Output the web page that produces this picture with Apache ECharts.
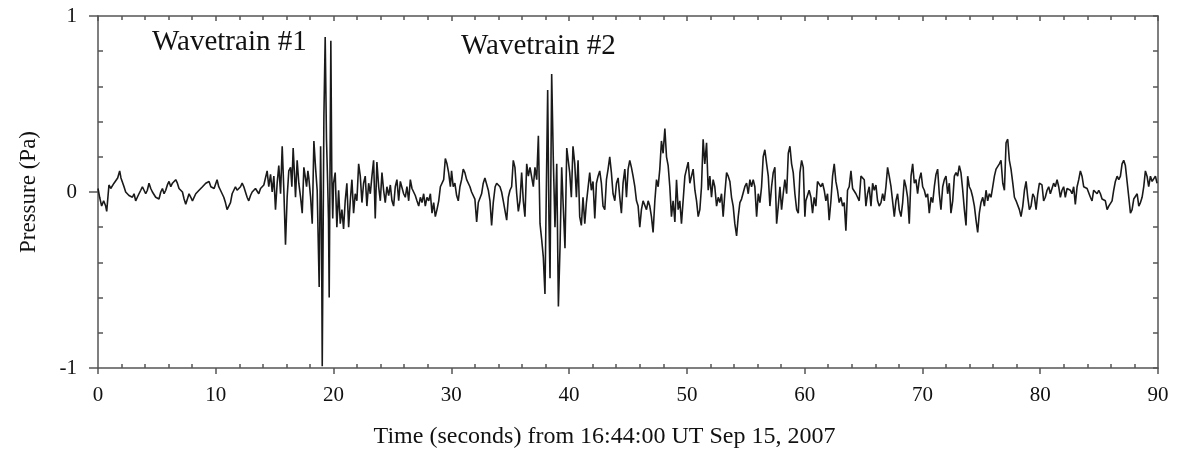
<!DOCTYPE html>
<html><head><meta charset="utf-8">
<script src="https://cdn.jsdelivr.net/npm/echarts@6/dist/echarts.min.js"></script>
<style>html,body{margin:0;padding:0;background:#fff}#c{width:1181px;height:460px}</style>
</head><body><div id="c"></div>
<script>
// Time (s) and pressure (Pa)
const times = [
0.00,0.14,0.31,0.48,0.65,0.74,0.93,1.08,1.22,1.36,1.50,1.67,1.84,1.95,2.07,2.21,2.35,2.49,2.63,2.78,2.92,3.06,3.20,3.34,3.48,3.63,3.77,3.91,4.05,4.19,4.33,4.48,4.62,4.76,4.90,5.04,5.18,5.33,5.47,5.61,5.75,5.89,6.03,6.18,6.32,6.46,6.60,6.74,6.88,7.03,7.17,7.31,7.45,7.59,7.73,7.88,8.02,8.16,8.30,8.44,8.58,8.73,8.87,9.01,9.15,9.29,9.43,9.58,9.72,9.86,
10.11,10.25,10.40,10.54,10.68,10.82,10.96,11.10,11.25,11.39,11.53,11.67,11.81,11.95,12.10,12.24,12.38,12.52,12.66,12.80,12.95,13.09,13.23,13.37,13.51,13.65,13.80,13.94,14.08,14.22,14.36,14.50,14.65,14.79,14.93,15.07,15.21,15.35,15.50,15.64,15.78,15.92,16.06,16.20,16.35,16.46,16.57,16.69,16.77,16.91,17.05,17.20,17.34,17.48,17.59,17.71,17.82,17.90,18.05,18.19,18.33,18.47,18.61,
18.78,18.90,18.97,19.04,19.18,19.29,19.40,19.50,19.57,19.63,19.77,19.85,19.93,20.00,
20.14,20.28,20.43,20.57,20.71,20.85,20.99,21.13,21.28,21.42,21.56,21.70,21.84,21.98,22.13,22.27,22.41,22.55,22.69,22.83,22.98,23.12,23.26,23.40,23.54,23.68,23.83,23.97,24.11,24.25,24.39,24.53,24.68,24.82,24.96,25.10,25.24,25.38,25.53,25.67,25.81,25.95,26.09,26.23,26.38,26.52,26.66,26.80,26.94,27.08,27.23,27.37,27.51,27.65,27.79,27.93,28.08,28.22,28.36,28.50,28.64,28.78,28.93,29.07,29.21,29.35,29.49,29.63,29.77,29.92,
30.02,30.16,30.30,30.45,30.59,30.73,30.87,31.01,31.15,31.30,31.44,31.58,31.72,31.86,32.00,32.15,32.29,32.43,32.57,32.71,32.85,33.00,33.14,33.28,33.42,33.56,33.72,33.85,33.99,34.13,34.27,34.41,34.55,34.70,34.84,34.98,35.12,35.26,35.40,35.55,35.69,35.83,35.97,36.11,36.25,36.40,36.54,36.68,36.82,36.96,37.10,37.25,37.39,37.53,37.67,37.81,37.95,38.07,38.18,38.29,38.38,38.52,38.66,38.80,38.95,39.09,39.23,39.37,39.50,39.65,39.80,
40.05,40.19,40.33,40.48,40.62,40.76,40.90,41.04,41.18,41.33,41.47,41.61,41.75,41.89,42.03,42.18,42.32,42.46,42.60,42.74,42.88,43.03,43.17,43.31,43.45,43.59,43.73,43.88,44.02,44.16,44.30,44.44,44.58,44.73,44.87,45.01,45.15,45.29,45.43,45.58,45.72,45.86,46.00,46.14,46.28,46.43,46.57,46.71,46.85,46.99,47.13,47.28,47.42,47.56,47.70,47.84,47.98,48.13,48.27,48.41,48.55,48.69,48.83,48.98,49.12,49.26,49.40,49.54,49.68,49.83,49.97,
50.11,50.25,50.39,50.53,50.68,50.82,50.96,51.10,51.24,51.38,51.52,51.67,51.81,51.95,52.09,52.23,52.37,52.52,52.66,52.80,52.94,53.08,53.22,53.37,53.51,53.65,53.79,53.93,54.07,54.22,54.36,54.50,54.64,54.78,54.92,55.07,55.21,55.35,55.49,55.63,55.77,55.92,56.06,56.20,56.34,56.48,56.62,56.77,56.91,57.05,57.19,57.33,57.47,57.62,57.76,57.90,58.04,58.18,58.32,58.47,58.61,58.75,58.89,59.03,59.17,59.32,59.46,59.60,59.74,59.88,
60.02,60.10,60.24,60.38,60.53,60.67,60.81,60.95,61.09,61.23,61.38,61.52,61.66,61.80,61.94,62.08,62.23,62.37,62.51,62.65,62.79,62.93,63.08,63.22,63.36,63.50,63.64,63.78,63.93,64.07,64.21,64.35,64.49,64.63,64.78,64.92,65.06,65.20,65.34,65.48,65.63,65.77,65.91,66.05,66.19,66.33,66.48,66.62,66.76,66.90,67.04,67.18,67.33,67.47,67.61,67.75,67.89,68.03,68.18,68.32,68.46,68.60,68.74,68.88,69.03,69.17,69.31,69.45,69.59,69.73,69.88,
70.02,70.16,70.30,70.44,70.58,70.73,70.87,71.01,71.15,71.29,71.43,71.57,71.72,71.86,72.00,72.14,72.28,72.42,72.57,72.71,72.85,72.99,73.13,73.27,73.42,73.56,73.70,73.84,73.98,74.12,74.27,74.41,74.55,74.69,74.83,74.97,75.12,75.26,75.40,75.54,75.68,75.82,75.97,76.11,76.25,76.39,76.53,76.67,76.82,76.96,77.10,77.24,77.38,77.52,77.67,77.81,77.95,78.09,78.23,78.37,78.52,78.66,78.80,78.94,79.08,79.22,79.37,79.51,79.65,79.79,79.93,
80.15,80.29,80.43,80.58,80.72,80.86,81.00,81.14,81.28,81.43,81.57,81.71,81.85,81.99,82.13,82.28,82.42,82.56,82.70,82.84,82.98,83.13,83.27,83.41,83.55,83.69,83.83,83.98,84.12,84.26,84.40,84.54,84.68,84.83,84.97,85.11,85.25,85.39,85.53,85.68,85.82,85.96,86.10,86.24,86.38,86.53,86.67,86.81,86.95,87.09,87.23,87.38,87.52,87.66,87.80,87.94,88.08,88.23,88.37,88.51,88.65,88.79,88.93,89.07,89.21,89.36,89.50,89.64,89.78,89.92
];
const pressure = [
0.02,-0.03,-0.08,-0.05,-0.08,-0.11,0.04,0.02,0.01,0.05,0.04,0.08,0.12,0.08,0.07,0.03,0.00,0.01,-0.02,-0.01,-0.03,-0.01,-0.05,-0.03,-0.01,0.01,0.03,0.02,-0.01,0.01,0.05,0.02,0.00,-0.01,-0.03,-0.02,-0.04,0.00,0.02,-0.01,0.01,0.04,0.06,0.03,0.05,0.06,0.07,0.05,0.02,0.01,0.00,-0.04,-0.07,-0.04,-0.01,-0.03,-0.05,-0.04,-0.01,-0.02,0.01,0.00,0.03,0.02,0.05,0.04,0.06,0.03,0.04,0.02,
0.07,0.03,0.01,0.00,-0.03,-0.06,-0.10,-0.11,-0.06,-0.01,0.01,0.03,0.01,0.00,0.03,0.05,0.03,0.03,-0.03,-0.05,-0.02,0.00,-0.01,0.02,0.01,-0.01,0.02,0.01,0.04,0.05,0.12,0.03,0.10,0.00,0.09,-0.10,0.05,0.15,-0.01,0.26,0.01,-0.30,-0.03,0.12,0.14,0.03,0.25,0.09,-0.03,0.18,0.05,-0.03,-0.12,0.14,0.09,0.03,0.12,0.08,-0.03,-0.18,0.29,0.14,0.01,
-0.54,0.26,-0.10,-0.99,0.43,0.88,0.30,0.05,-0.15,-0.60,0.86,0.10,-0.15,0.05,
0.11,-0.20,0.01,-0.18,-0.10,-0.21,-0.05,0.05,-0.20,-0.05,0.07,-0.12,-0.01,-0.05,0.16,0.09,-0.06,0.05,0.09,-0.08,0.05,-0.01,0.09,0.18,-0.15,0.17,0.03,-0.05,0.11,0.01,-0.06,0.03,-0.02,0.04,-0.05,-0.08,0.03,0.07,-0.05,0.06,0.07,-0.01,-0.03,0.03,-0.05,0.07,0.02,0.00,-0.02,-0.05,-0.08,-0.03,-0.06,-0.01,-0.08,-0.03,-0.05,-0.01,-0.12,-0.06,-0.14,-0.10,-0.05,0.03,0.04,0.07,0.19,0.16,0.11,0.03,
0.12,0.03,0.05,-0.02,-0.05,0.03,0.07,0.13,0.11,0.07,0.06,0.03,0.00,-0.01,-0.04,-0.17,-0.06,-0.05,-0.01,0.05,0.08,0.07,0.01,-0.05,-0.19,-0.06,0.03,0.05,0.04,0.03,0.00,-0.05,-0.06,-0.16,-0.03,0.01,0.03,0.18,0.14,-0.01,-0.11,-0.05,0.11,-0.05,-0.14,0.16,0.09,0.14,0.13,0.03,0.14,0.07,0.32,-0.18,-0.27,-0.37,-0.58,0.03,0.58,-0.16,-0.49,0.67,0.18,-0.20,0.16,-0.65,-0.31,0.14,-0.08,-0.32,0.25,
0.11,-0.03,0.26,0.16,-0.03,0.18,-0.14,-0.19,-0.03,-0.18,-0.06,-0.05,0.11,0.01,0.06,-0.15,0.05,0.09,0.12,0.05,-0.08,-0.10,0.07,0.13,0.20,0.11,-0.01,-0.05,0.05,0.08,-0.03,-0.12,0.05,0.13,-0.03,0.13,0.18,0.14,0.09,0.03,-0.05,-0.08,-0.20,-0.10,-0.05,-0.06,-0.10,-0.05,-0.08,-0.14,-0.23,-0.05,0.07,0.03,0.13,0.29,0.22,0.36,0.20,0.15,0.03,-0.14,-0.05,-0.17,0.07,-0.10,-0.05,-0.18,-0.05,0.09,0.13,
0.17,0.05,0.09,0.13,0.01,-0.05,-0.14,-0.10,0.03,0.30,0.16,0.28,0.01,0.09,-0.03,0.07,0.03,-0.08,-0.03,-0.06,-0.01,-0.14,-0.01,0.11,0.09,0.06,-0.03,-0.08,-0.18,-0.25,-0.14,-0.06,-0.04,-0.05,0.03,0.05,-0.01,0.07,0.03,0.07,0.03,-0.14,-0.01,-0.06,0.03,0.20,0.24,0.16,0.09,-0.08,0.03,0.11,0.14,-0.18,-0.08,0.03,-0.10,-0.01,0.07,-0.01,0.22,0.26,0.16,0.11,-0.01,-0.10,-0.12,0.11,0.18,0.14,
-0.14,-0.05,-0.06,0.01,-0.03,-0.12,-0.03,-0.08,0.06,0.07,0.03,0.05,0.01,-0.05,-0.01,-0.16,-0.05,0.09,0.16,0.06,0.01,-0.06,-0.03,-0.08,-0.06,-0.22,0.01,0.03,0.12,0.02,0.01,-0.01,-0.03,-0.05,0.09,0.10,0.07,-0.08,-0.01,0.03,-0.08,0.05,0.01,0.04,-0.05,-0.08,-0.06,-0.01,-0.05,0.03,0.14,0.09,0.03,0.03,-0.14,-0.05,-0.01,-0.10,-0.14,-0.06,0.07,0.03,-0.03,-0.18,0.09,0.16,0.05,0.07,-0.01,0.07,0.11,
0.03,0.01,-0.03,-0.01,-0.12,-0.03,-0.06,0.03,0.10,0.13,-0.01,-0.10,0.03,0.07,0.09,-0.01,0.05,-0.12,-0.05,0.09,0.11,0.09,0.15,0.11,0.01,-0.10,-0.19,0.09,0.03,0.01,-0.03,-0.08,-0.16,-0.23,-0.12,-0.06,-0.03,-0.08,0.01,-0.05,-0.01,-0.03,0.03,0.09,0.13,0.12,0.16,0.18,0.05,0.01,0.28,0.30,0.18,0.13,0.05,-0.03,-0.05,-0.06,-0.10,-0.14,-0.08,0.01,0.06,-0.03,-0.10,-0.08,-0.01,-0.03,-0.10,-0.01,0.05,
0.04,-0.05,-0.03,0.01,0.03,-0.01,0.02,0.05,0.03,0.07,0.03,-0.03,0.01,0.03,-0.03,0.02,0.03,0.01,-0.01,0.03,-0.07,0.03,0.07,0.12,0.09,0.03,0.04,0.02,0.01,-0.03,-0.05,0.01,0.02,-0.01,0.01,-0.01,-0.04,-0.05,-0.05,-0.10,-0.08,-0.07,-0.05,0.01,0.06,0.09,0.07,0.09,0.16,0.18,0.15,0.14,-0.03,-0.12,-0.10,-0.04,-0.03,-0.01,-0.08,-0.06,-0.03,0.03,0.12,0.09,0.03,0.09,0.06,0.07,0.09,0.05
];
const xTickLabels = ['0','10','20','30','40','50','60','70','80','90'];
const yTickLabels = ['-1','0','1'];
const annotations = ['Wavetrain #1', 'Wavetrain #2'];

const FONT = '"Liberation Serif", "Times New Roman", serif';
const AXIS = '#555';
const chart = echarts.init(document.getElementById('c'), null, { renderer: 'canvas' });
const n = Math.min(times.length, pressure.length);
const data = times.slice(0, n).map((t, i) => [t, pressure[i]]);

const lineStyle = { color: AXIS, width: 1.5 };
chart.setOption({
  animation: false,
  backgroundColor: '#fff',
  grid: { left: 98, right: 23, top: 16, bottom: 92, containLabel: false },
  xAxis: [
    {
      type: 'value', min: 0, max: 90, interval: 10, position: 'bottom',
      name: 'Time (seconds) from 16:44:00 UT Sep 15, 2007',
      nameLocation: 'middle', nameGap: 57,
      nameTextStyle: { fontFamily: FONT, fontSize: 24, color: '#111', padding: [0, 47, 0, 0] },
      axisLine: { show: true, onZero: false, lineStyle: lineStyle },
      axisTick: { show: true, inside: false, length: 6, lineStyle: lineStyle },
      minorTick: { show: true, splitNumber: 5, length: -4, lineStyle: lineStyle },
      axisLabel: { fontFamily: FONT, fontSize: 21, color: '#111', margin: 17,
        formatter: v => xTickLabels[Math.round(v / 10)] },
      splitLine: { show: false }, minorSplitLine: { show: false }
    },
    {
      type: 'value', min: 0, max: 90, interval: 10, position: 'top',
      axisLine: { show: true, onZero: false, lineStyle: lineStyle },
      axisTick: { show: true, inside: true, length: 5, lineStyle: lineStyle },
      minorTick: { show: true, splitNumber: 5, length: 4, lineStyle: lineStyle },
      axisLabel: { show: false }, splitLine: { show: false }
    }
  ],
  yAxis: [
    {
      type: 'value', min: -1, max: 1, interval: 1, position: 'left',
      name: 'Pressure (Pa)', nameLocation: 'middle', nameGap: 58,
      nameTextStyle: { fontFamily: FONT, fontSize: 23, color: '#111' },
      axisLine: { show: true, onZero: false, lineStyle: lineStyle },
      axisTick: { show: true, inside: false, length: 9, lineStyle: lineStyle },
      minorTick: { show: true, splitNumber: 5, length: -5, lineStyle: lineStyle },
      axisLabel: { fontFamily: FONT, fontSize: 21, color: '#111', margin: 21,
        formatter: v => yTickLabels[Math.round(v) + 1] },
      splitLine: { show: false }
    },
    {
      type: 'value', min: -1, max: 1, interval: 1, position: 'right',
      axisLine: { show: true, onZero: false, lineStyle: lineStyle },
      axisTick: { show: true, inside: true, length: 5, lineStyle: lineStyle },
      minorTick: { show: true, splitNumber: 5, length: 5, lineStyle: lineStyle },
      axisLabel: { show: false }, splitLine: { show: false }
    }
  ],
  graphic: [
    { type: 'text', left: 152, top: 28, style: { text: annotations[0], font: '29px ' + FONT, fill: '#111' } },
    { type: 'text', left: 461, top: 32, style: { text: annotations[1], font: '29px ' + FONT, fill: '#111' } }
  ],
  series: [{
    type: 'line', xAxisIndex: 0, yAxisIndex: 0, data: data,
    showSymbol: false, symbol: 'none', smooth: false,
    lineStyle: { color: '#1a1a1a', width: 1.6 }
  }]
});
</script>
</body></html>
